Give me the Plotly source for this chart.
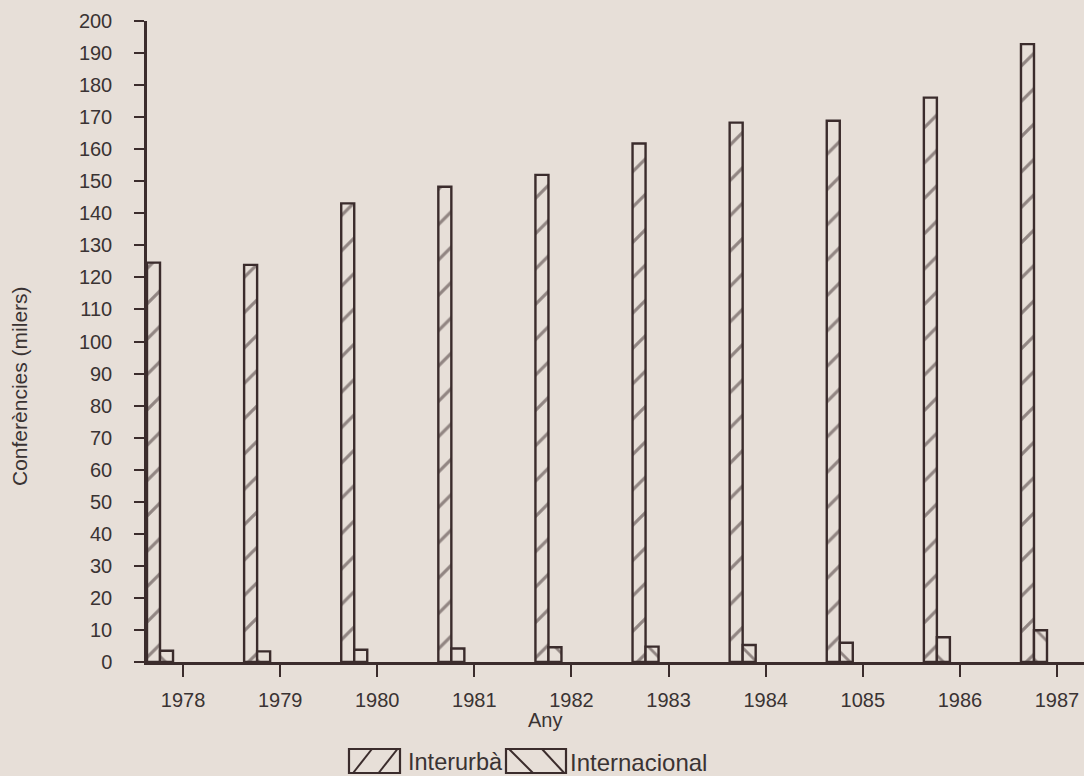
import plotly.graph_objects as go

# ---- data ----
years = [1978, 1979, 1980, 1981, 1982, 1983, 1984, 1985, 1986, 1987]
year_labels = ["1978", "1979", "1980", "1981", "1982", "1983", "1984", "1085", "1986", "1987"]
interurba = [124.6, 123.9, 143.1, 148.3, 152.0, 161.8, 168.3, 168.9, 176.1, 192.8]
internacional = [3.5, 3.3, 3.8, 4.2, 4.6, 4.8, 5.3, 6.0, 7.7, 9.9]
y_ticks = list(range(0, 201, 10))
series_names = ["Interurbà", "Internacional"]
x_title = "Any"
y_title = "Conferències (milers)"

# ---- style ----
W, H = 1084, 776
ML, MR, MT, MB = 147, 0, 21, 114
BG = "#e7dfd8"
INK = "#3b2c2c"
TXT = "#3a3333"
FONT = "Liberation Sans, Arial, Helvetica, sans-serif"

PW = W - ML - MR
PH = H - MT - MB


def px_x(px):
    return (px - ML) / PW


def px_y(py):
    return (H - MB - py) / PH


fig = go.Figure()
fig.add_trace(go.Bar(
    x=years, y=interurba, name=series_names[0],
    width=0.134, offset=-0.371,
    marker=dict(color=BG, line=dict(color=INK, width=2.4),
                pattern=dict(shape="/", size=25, solidity=0.13, fgcolor=INK, bgcolor=BG)),
    showlegend=False,
))
fig.add_trace(go.Bar(
    x=years, y=internacional, name=series_names[1],
    width=0.134, offset=-0.237,
    marker=dict(color=BG, line=dict(color=INK, width=2.4),
                pattern=dict(shape="\\", size=22, solidity=0.13, fgcolor=INK, bgcolor=BG)),
    showlegend=False,
))

shapes = []
annotations = []


def legend_box(x0, x1, y0, y1, kind):
    shapes.append(dict(type="rect", xref="paper", yref="paper",
                       x0=px_x(x0), x1=px_x(x1), y0=px_y(y1), y1=px_y(y0),
                       line=dict(color=INK, width=2.2), fillcolor=BG))
    w = x1 - x0
    if kind == "/":
        segs = [(x0 + 0.08 * w, y1, x0 + 0.45 * w, y0), (x0 + 0.58 * w, y1, x0 + 0.95 * w, y0)]
    else:
        segs = [(x0 + 0.05 * w, y0, x0 + 0.45 * w, y1), (x0 + 0.6 * w, y0, x0 + 0.97 * w, y1)]
    for a, b, c, d in segs:
        shapes.append(dict(type="line", xref="paper", yref="paper",
                           x0=px_x(a), y0=px_y(b), x1=px_x(c), y1=px_y(d),
                           line=dict(color=INK, width=2)))


legend_box(349, 400, 749, 773, "/")
legend_box(506, 566, 749, 773, "\\")
annotations.append(dict(xref="paper", yref="paper", x=px_x(406), y=px_y(762),
                        xanchor="left", yanchor="middle", showarrow=False,
                        text=series_names[0], font=dict(size=23.5, color=TXT, family=FONT)))
annotations.append(dict(xref="paper", yref="paper", x=px_x(568), y=px_y(762),
                        xanchor="left", yanchor="middle", showarrow=False,
                        text=series_names[1], font=dict(size=24, color=TXT, family=FONT)))

annotations.append(dict(xref="paper", yref="paper", x=px_x(545), y=px_y(720),
                        xanchor="center", yanchor="middle", showarrow=False,
                        text=x_title, font=dict(size=20, color=TXT, family=FONT)))
annotations.append(dict(xref="paper", yref="paper", x=px_x(19), y=px_y(386),
                        xanchor="center", yanchor="middle", showarrow=False, textangle=-90,
                        text=y_title, font=dict(size=21, color=TXT, family=FONT)))

fig.update_layout(
    width=W, height=H, autosize=False,
    margin=dict(l=ML, r=MR, t=MT, b=MB, pad=0),
    paper_bgcolor=BG, plot_bgcolor=BG,
    barmode="overlay",
    font=dict(family=FONT, color=TXT, size=20),
    shapes=shapes, annotations=annotations,
    showlegend=False,
    xaxis=dict(
        range=[1977.629, 1987.278], tickmode="array", tickvals=years, ticktext=year_labels,
        ticks="outside", ticklen=12, tickwidth=2, tickcolor=INK,
        showline=True, linewidth=2.5, linecolor=INK, showgrid=False, zeroline=False,
        tickfont=dict(size=20, color=TXT, family=FONT), ticklabelstandoff=6,
    ),
    yaxis=dict(
        range=[0, 200], tickmode="array", tickvals=y_ticks,
        ticks="outside", ticklen=10, tickwidth=2, tickcolor=INK,
        showline=True, linewidth=2.5, linecolor=INK, showgrid=False, zeroline=False,
        tickfont=dict(size=20, color=TXT, family=FONT), ticklabelstandoff=18,
    ),
)

fig.write_html(
    "out.html",
    config={"displayModeBar": False},
    post_script="document.body.style.margin='0';document.body.style.padding='0';"
                "document.body.style.background='" + BG + "';"
                "document.documentElement.style.background='" + BG + "';"
                "document.body.style.overflow='hidden';",
)
